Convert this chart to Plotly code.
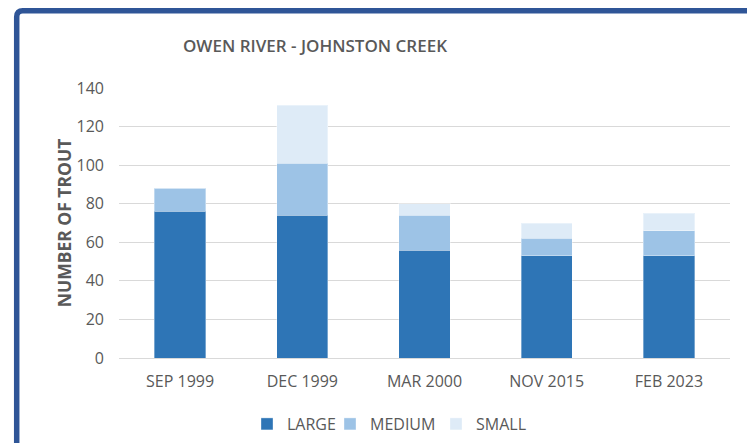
import plotly.graph_objects as go

categories = ["SEP 1999", "DEC 1999", "MAR 2000", "NOV 2015", "FEB 2023"]
large = [76, 74, 56, 53, 53]
medium = [12, 27, 18, 9, 13]
small = [0, 30, 6, 8, 9]
series_names = ["LARGE", "MEDIUM", "SMALL"]
series_colors = ["#2E75B6", "#9DC3E6", "#DEEBF7"]
legend_widths = [38, 61, None]
y_ticks = [0, 20, 40, 60, 80, 100, 120, 140]

W, H = 747, 443
L, R, T, B = 119, 17, 88, 85
pw, ph = W - L - R, H - T - B

def px(x):
    return (x - L) / pw

def py(y):
    return (H - B - y) / ph

fig = go.Figure()
for name, vals, col, lw in zip(series_names, [large, medium, small], series_colors, legend_widths):
    fig.add_trace(go.Bar(
        x=categories, y=vals, name=name,
        marker=dict(color=col, line=dict(color="rgba(255,255,255,0.35)", width=1)),
        width=0.42,
        legendwidth=lw,
    ))

font_family = "Open Sans"
grey = "#595959"

# frame border (top + left, rounded corner)
x0, y0 = px(16.7), py(10.8)
r_x, r_y = 6 / pw, 6 / ph
path = (f"M {x0},{py(460)} L {x0},{y0 - r_y} Q {x0},{y0} {x0 + r_x},{y0} "
        f"L {px(770)},{y0}")

fig.update_layout(
    width=W, height=H,
    margin=dict(l=L, r=R, t=T, b=B, pad=0),
    paper_bgcolor="white", plot_bgcolor="white",
    barmode="stack",
    font=dict(family=font_family, color=grey, size=16),
    title=dict(
        text="OWEN RIVER - JOHNSTON CREEK",
        x=315 / W, xanchor="center", xref="container",
        y=1 - 46 / H, yanchor="middle", yref="container",
        font=dict(family=font_family, size=17, color=grey, weight=600),
    ),
    legend=dict(
        orientation="h",
        x=247 / W, xanchor="left", xref="container",
        y=1 - 424 / H, yanchor="middle", yref="container",
        font=dict(family=font_family, size=16, color=grey),
        itemwidth=30,
        traceorder="normal",
        bgcolor="rgba(0,0,0,0)",
    ),
    xaxis=dict(
        showgrid=False, showline=False, zeroline=False,
        tickfont=dict(size=16, color=grey),
        ticks="", ticklabelstandoff=12,
    ),
    yaxis=dict(
        range=[0, 140], tickvals=y_ticks,
        showgrid=True, gridcolor="#D9D9D9", gridwidth=1,
        zeroline=True, zerolinecolor="#D9D9D9", zerolinewidth=1,
        showline=False,
        tickfont=dict(size=16, color=grey),
        ticks="", ticklabelstandoff=14,
        title=dict(text="<b>NUMBER OF TROUT</b>", standoff=0,
                   font=dict(size=17.5, color=grey, family=font_family)),
    ),
    shapes=[dict(type="path", path=path, xref="paper", yref="paper",
                 line=dict(color="#2F5597", width=5.5), layer="above")],
    showlegend=True,
)

fig.write_html("out.html")
